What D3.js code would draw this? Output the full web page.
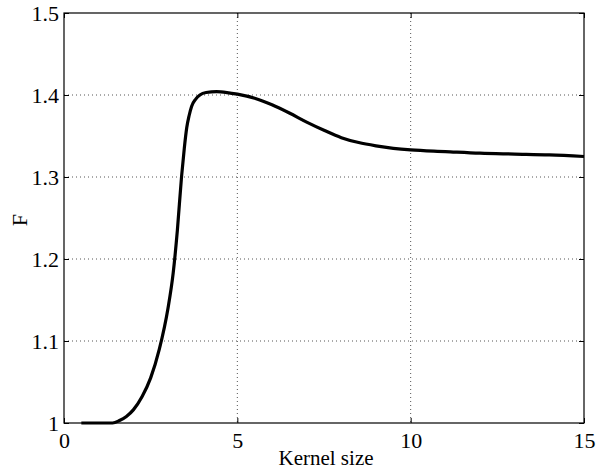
<!DOCTYPE html>
<html>
<head>
<meta charset="utf-8">
<script src="https://cdn.jsdelivr.net/npm/d3@7"></script>
<style>
  body { margin: 0; background: #fff; }
  text { font-family: "Liberation Serif", "Times New Roman", serif; fill: #000; }
</style>
</head>
<body>
<div class="chart"></div>
<script>
// kernel size vs F
var kernelSize = [0.5, 1.0, 1.4, 1.6, 1.8, 2.0, 2.25, 2.5, 2.75, 3.0, 3.15, 3.27, 3.39, 3.47, 3.54, 3.61, 3.68, 3.8, 3.92, 4.1, 4.4, 4.7, 5.0, 5.5, 6.0, 6.5, 7.0, 7.5, 8.0, 8.5, 9.0, 9.5, 10, 11, 12, 13, 14, 15];
var fValues = [1.0, 1.0, 1.0, 1.003, 1.008, 1.016, 1.032, 1.055, 1.09, 1.14, 1.183, 1.235, 1.30, 1.335, 1.36, 1.375, 1.386, 1.395, 1.4, 1.403, 1.404, 1.403, 1.401, 1.396, 1.388, 1.378, 1.367, 1.357, 1.348, 1.342, 1.338, 1.335, 1.333, 1.331, 1.329, 1.328, 1.327, 1.325];
var xTicks = [0, 5, 10, 15];
var yTicks = [1, 1.1, 1.2, 1.3, 1.4, 1.5];

var svgWidth = 604;
var svgHeight = 471;
var margin = { top: 13, right: 20, bottom: 48, left: 64 };
var width = svgWidth - margin.left - margin.right;
var height = svgHeight - margin.top - margin.bottom;

var svg = d3.select(".chart")
  .append("svg")
  .attr("width", svgWidth)
  .attr("height", svgHeight);

var chartGroup = svg.append("g")
  .attr("transform", `translate(${margin.left}, ${margin.top})`);

var xScale = d3.scaleLinear().domain([0, 15]).range([0, width]);
var yScale = d3.scaleLinear().domain([1, 1.5]).range([height, 0]);

// dotted grid
chartGroup.selectAll(".vgrid")
  .data(xTicks.filter(d => d > 0 && d < 15))
  .enter().append("line")
  .attr("x1", d => xScale(d)).attr("x2", d => xScale(d))
  .attr("y1", 0).attr("y2", height)
  .attr("stroke", "#555").attr("stroke-width", 1)
  .attr("stroke-dasharray", "1,3");

chartGroup.selectAll(".hgrid")
  .data(yTicks.filter(d => d > 1 && d < 1.5))
  .enter().append("line")
  .attr("x1", 0).attr("x2", width)
  .attr("y1", d => yScale(d)).attr("y2", d => yScale(d))
  .attr("stroke", "#555").attr("stroke-width", 1)
  .attr("stroke-dasharray", "1,3");

// axes, ticks inward on all four sides
function styleAxis(g) {
  g.select(".domain").remove();
  g.selectAll(".tick line").attr("stroke", "#000");
  g.selectAll(".tick text").style("font-size", "22px").attr("fill", "#000");
}

chartGroup.append("g")
  .attr("transform", `translate(0, ${height})`)
  .call(d3.axisBottom(xScale).tickValues(xTicks).tickSize(-5).tickPadding(9).tickFormat(d3.format("d")))
  .call(styleAxis);

chartGroup.append("g")
  .call(d3.axisTop(xScale).tickValues(xTicks).tickSize(-5).tickFormat(""))
  .call(styleAxis);

chartGroup.append("g")
  .call(d3.axisLeft(yScale).tickValues(yTicks).tickSize(-5).tickPadding(5).tickFormat(d => d === 1 ? "1" : d3.format(".1f")(d)))
  .call(styleAxis);

chartGroup.append("g")
  .attr("transform", `translate(${width}, 0)`)
  .call(d3.axisRight(yScale).tickValues(yTicks).tickSize(-5).tickFormat(""))
  .call(styleAxis);

chartGroup.append("rect")
  .attr("x", 0).attr("y", 0)
  .attr("width", width).attr("height", height)
  .attr("fill", "none")
  .attr("stroke", "#000")
  .attr("stroke-width", 1.2);

// curve
var line = d3.line()
  .x((d, i) => xScale(kernelSize[i]))
  .y(d => yScale(d))
  .curve(d3.curveMonotoneX);

chartGroup.append("path")
  .datum(fValues)
  .attr("d", line)
  .attr("fill", "none")
  .attr("stroke", "#000")
  .attr("stroke-width", 3.2)
  .attr("stroke-linejoin", "round");

// axis labels
chartGroup.append("text")
  .attr("transform", `translate(${width / 2 + 2}, ${height + 42})`)
  .attr("text-anchor", "middle")
  .style("font-size", "21px")
  .text("Kernel size");

chartGroup.append("text")
  .attr("transform", `translate(${-37}, ${height / 2 + 2}) rotate(-90)`)
  .attr("text-anchor", "middle")
  .style("font-size", "22px")
  .text("F");
</script>
</body>
</html>
